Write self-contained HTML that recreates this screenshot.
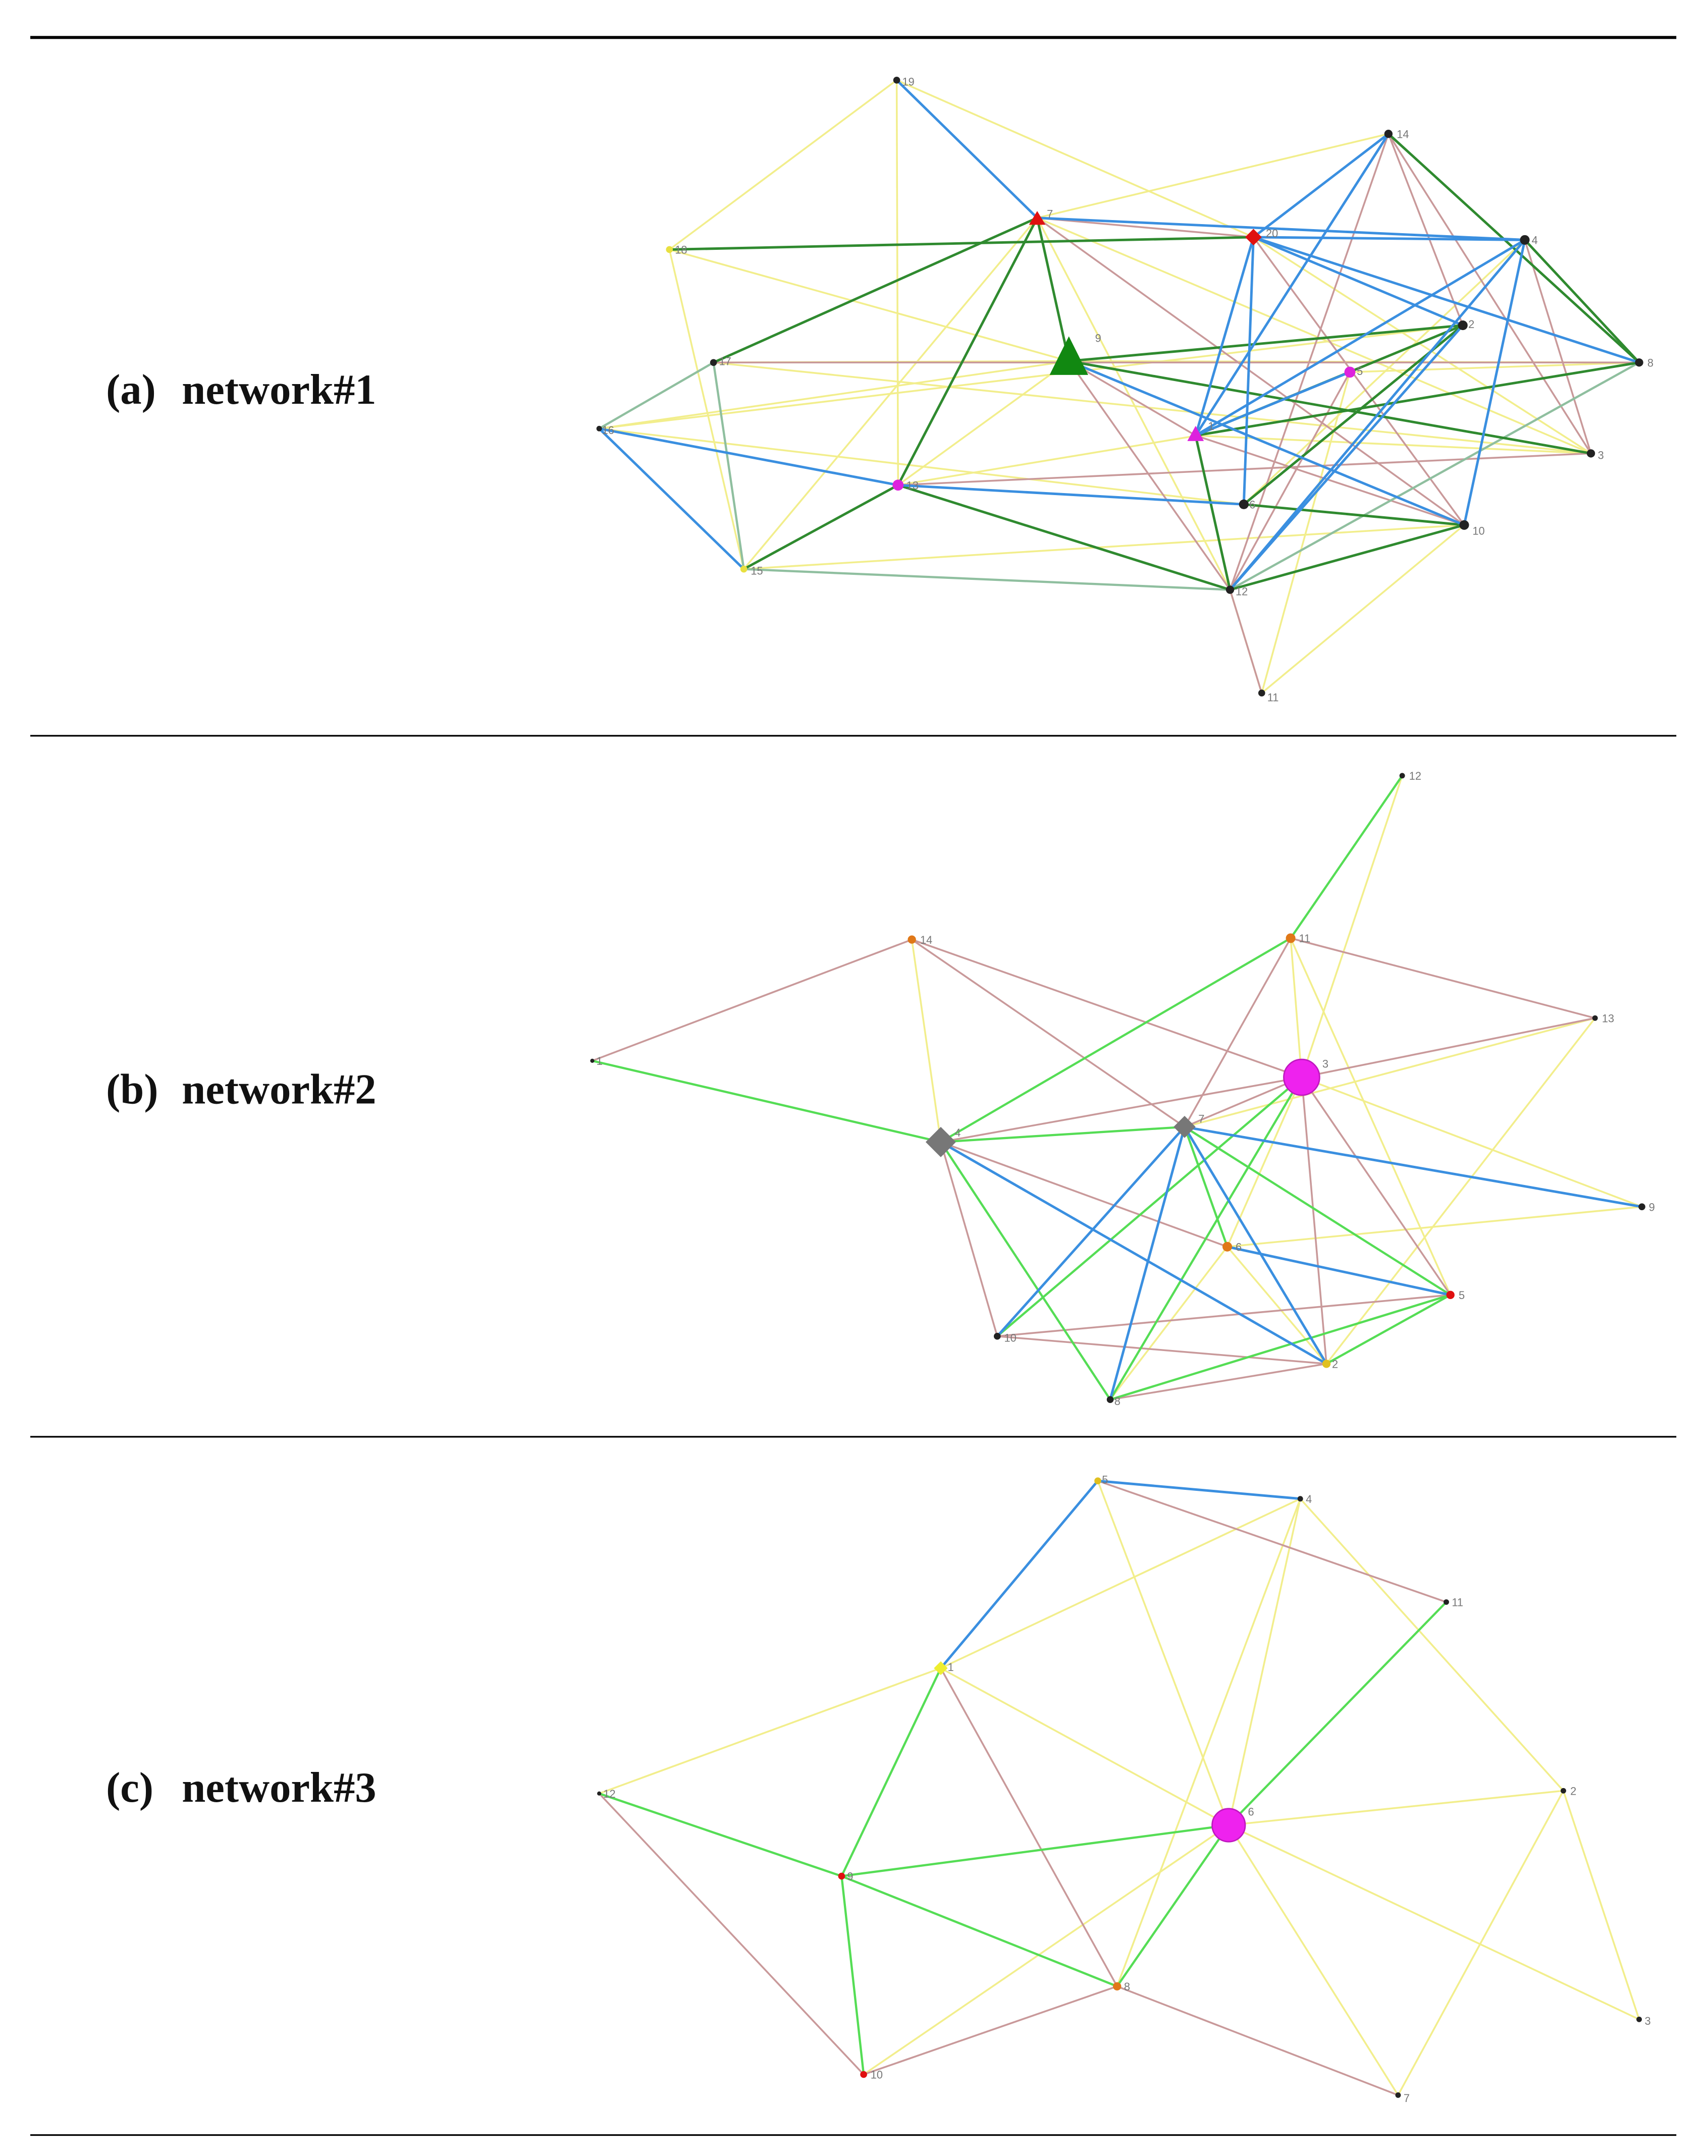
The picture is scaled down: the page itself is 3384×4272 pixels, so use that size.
<!DOCTYPE html>
<html><head><meta charset="utf-8"><style>
html,body{margin:0;padding:0;background:#fff;}
svg{display:block;}
text.l{font-family:"Liberation Serif",serif;font-weight:bold;font-size:31px;fill:#111;}
text.n{font-family:"Liberation Sans",sans-serif;font-size:8px;fill:#777;}
.y{stroke:#f2ee8c;stroke-width:1.3}
.p{stroke:#c9999a;stroke-width:1.3}
.b{stroke:#3a8fe0;stroke-width:1.8}
.g{stroke:#2f8a2f;stroke-width:1.8}
.lg{stroke:#55dd55;stroke-width:1.6}
.gg{stroke:#8fbf9f;stroke-width:1.6}
</style></head><body>
<svg width="3384" height="4272" viewBox="0 0 1240 1565" xmlns="http://www.w3.org/2000/svg">
<rect width="1240" height="1565" fill="#fff"/>
<line x1="22" y1="27" x2="1217" y2="27" stroke="#000" stroke-width="2.2"/>
<line x1="22" y1="534" x2="1217" y2="534" stroke="#000" stroke-width="1.2"/>
<line x1="22" y1="1043" x2="1217" y2="1043" stroke="#000" stroke-width="1.2"/>
<line x1="22" y1="1550" x2="1217" y2="1550" stroke="#000" stroke-width="1.2"/>
<text class="l" x="77" y="293">(a)</text><text class="l" x="132" y="293">network#1</text>
<text class="l" x="77" y="801">(b)</text><text class="l" x="132" y="801">network#2</text>
<text class="l" x="77" y="1308">(c)</text><text class="l" x="132" y="1308">network#3</text>

<!-- network 1 -->
<g fill="none">
<line class="y" x1="651" y1="58" x2="486" y2="181"/><line class="y" x1="651" y1="58" x2="652" y2="352"/>
<line class="y" x1="651" y1="58" x2="910" y2="172"/><line class="y" x1="486" y1="181" x2="540" y2="413"/>
<line class="y" x1="486" y1="181" x2="776" y2="262"/><line class="y" x1="518" y1="263" x2="776" y2="262"/>
<line class="y" x1="518" y1="263" x2="1155" y2="329"/><line class="y" x1="435" y1="311" x2="776" y2="262"/>
<line class="y" x1="435" y1="311" x2="903" y2="366"/><line class="y" x1="652" y1="352" x2="776" y2="262"/>
<line class="y" x1="540" y1="413" x2="1063" y2="381"/><line class="y" x1="1008" y1="97" x2="753" y2="158"/>
<line class="y" x1="776" y1="262" x2="1190" y2="263"/><line class="y" x1="753" y1="158" x2="893" y2="428"/>
<line class="y" x1="916" y1="503" x2="893" y2="428"/><line class="y" x1="916" y1="503" x2="980" y2="270"/>
<line class="y" x1="916" y1="503" x2="1063" y2="381"/><line class="y" x1="893" y1="428" x2="1190" y2="263"/>
<line class="y" x1="980" y1="270" x2="1190" y2="263"/><line class="y" x1="910" y1="172" x2="1155" y2="329"/>
<line class="y" x1="753" y1="158" x2="1155" y2="329"/><line class="y" x1="1107" y1="174" x2="903" y2="366"/>
<line class="y" x1="540" y1="413" x2="753" y2="158"/><line class="y" x1="652" y1="352" x2="1190" y2="263"/>
<line class="y" x1="435" y1="311" x2="1062" y2="236"/><line class="y" x1="868" y1="316" x2="1155" y2="329"/>
<!-- pink -->
<line class="p" x1="753" y1="158" x2="910" y2="172"/><line class="p" x1="753" y1="158" x2="1063" y2="381"/>
<line class="p" x1="1008" y1="97" x2="893" y2="428"/><line class="p" x1="1008" y1="97" x2="1062" y2="236"/>
<line class="p" x1="1008" y1="97" x2="1155" y2="329"/><line class="p" x1="776" y1="262" x2="868" y2="316"/>
<line class="p" x1="776" y1="262" x2="893" y2="428"/><line class="p" x1="518" y1="263" x2="1190" y2="263"/>
<line class="p" x1="980" y1="270" x2="893" y2="428"/><line class="p" x1="893" y1="428" x2="916" y2="503"/>
<line class="p" x1="652" y1="352" x2="1155" y2="329"/><line class="p" x1="1107" y1="174" x2="1155" y2="329"/>
<line class="p" x1="868" y1="316" x2="1063" y2="381"/><line class="p" x1="910" y1="172" x2="1063" y2="381"/>
<!-- pale green -->
<line class="gg" x1="435" y1="311" x2="518" y2="263"/><line class="gg" x1="540" y1="413" x2="893" y2="428"/>
<line class="gg" x1="518" y1="263" x2="540" y2="413"/><line class="gg" x1="893" y1="428" x2="1190" y2="263"/>
<!-- dark green -->
<line class="g" x1="486" y1="181" x2="910" y2="172"/><line class="g" x1="518" y1="263" x2="753" y2="158"/>
<line class="g" x1="753" y1="158" x2="776" y2="262"/><line class="g" x1="776" y1="262" x2="1062" y2="236"/>
<line class="g" x1="776" y1="262" x2="1155" y2="329"/><line class="g" x1="868" y1="316" x2="893" y2="428"/>
<line class="g" x1="540" y1="413" x2="652" y2="352"/><line class="g" x1="652" y1="352" x2="893" y2="428"/>
<line class="g" x1="893" y1="428" x2="1063" y2="381"/><line class="g" x1="903" y1="366" x2="1063" y2="381"/>
<line class="g" x1="903" y1="366" x2="1062" y2="236"/><line class="g" x1="1008" y1="97" x2="1190" y2="263"/>
<line class="g" x1="1107" y1="174" x2="1190" y2="263"/><line class="g" x1="868" y1="316" x2="1190" y2="263"/>
<line class="g" x1="868" y1="316" x2="1062" y2="236"/><line class="g" x1="652" y1="352" x2="753" y2="158"/>
<!-- blue -->
<line class="b" x1="651" y1="58" x2="753" y2="158"/><line class="b" x1="753" y1="158" x2="1107" y2="174"/>
<line class="b" x1="910" y1="172" x2="868" y2="316"/><line class="b" x1="910" y1="172" x2="903" y2="366"/>
<line class="b" x1="910" y1="172" x2="1062" y2="236"/><line class="b" x1="910" y1="172" x2="1107" y2="174"/>
<line class="b" x1="1008" y1="97" x2="910" y2="172"/><line class="b" x1="1008" y1="97" x2="868" y2="316"/>
<line class="b" x1="1107" y1="174" x2="868" y2="316"/><line class="b" x1="1107" y1="174" x2="1063" y2="381"/>
<line class="b" x1="1107" y1="174" x2="893" y2="428"/><line class="b" x1="1062" y1="236" x2="893" y2="428"/>
<line class="b" x1="776" y1="262" x2="1063" y2="381"/><line class="b" x1="435" y1="311" x2="652" y2="352"/>
<line class="b" x1="435" y1="311" x2="540" y2="413"/><line class="b" x1="652" y1="352" x2="903" y2="366"/>
<line class="b" x1="910" y1="172" x2="1190" y2="263"/><line class="b" x1="868" y1="316" x2="980" y2="270"/>
</g>
<g>
<polygon points="776,244 762,272 790,272" fill="#118811"/>
<polygon points="753,153 747,163 759,163" fill="#e01010"/>
<polygon points="910,166 916,172 910,178 904,172" fill="#e01010"/>
<polygon points="868,309 862,320 874,320" fill="#dd22dd"/>
<circle cx="980" cy="270" r="4" fill="#dd22dd"/><circle cx="652" cy="352" r="4" fill="#dd22dd"/>
<g fill="#222">
<circle cx="651" cy="58" r="2.5"/><circle cx="1008" cy="97" r="3"/><circle cx="1107" cy="174" r="3.5"/>
<circle cx="1062" cy="236" r="3.5"/><circle cx="518" cy="263" r="2.5"/><circle cx="1190" cy="263" r="3"/>
<circle cx="435" cy="311" r="2"/><circle cx="1155" cy="329" r="3"/><circle cx="903" cy="366" r="3.5"/>
<circle cx="1063" cy="381" r="3.5"/><circle cx="893" cy="428" r="3"/><circle cx="916" cy="503" r="2.5"/>
</g>
<circle cx="486" cy="181" r="2.5" fill="#e8e040"/><circle cx="540" cy="413" r="2.5" fill="#e8e040"/>
</g>
<g>
<text class="n" x="655" y="62">19</text><text class="n" x="760" y="158">7</text><text class="n" x="919" y="172">20</text>
<text class="n" x="1014" y="100">14</text><text class="n" x="1112" y="177">4</text><text class="n" x="490" y="184">18</text>
<text class="n" x="1066" y="238">2</text><text class="n" x="795" y="248">9</text><text class="n" x="522" y="265">17</text>
<text class="n" x="985" y="272">5</text><text class="n" x="1196" y="266">8</text><text class="n" x="437" y="315">16</text>
<text class="n" x="877" y="312">1</text><text class="n" x="1160" y="333">3</text><text class="n" x="658" y="355">13</text>
<text class="n" x="907" y="369">6</text><text class="n" x="1069" y="388">10</text><text class="n" x="545" y="417">15</text>
<text class="n" x="897" y="432">12</text><text class="n" x="920" y="509">11</text>
</g>

<!-- network 2 -->
<g fill="none">
<line class="y" x1="1018" y1="563" x2="945" y2="782"/><line class="y" x1="662" y1="682" x2="683" y2="829"/>
<line class="y" x1="937" y1="681" x2="945" y2="782"/><line class="y" x1="937" y1="681" x2="1053" y2="940"/>
<line class="y" x1="1158" y1="739" x2="860" y2="818"/><line class="y" x1="1192" y1="876" x2="891" y2="905"/>
<line class="y" x1="1192" y1="876" x2="945" y2="782"/><line class="y" x1="945" y1="782" x2="891" y2="905"/>
<line class="y" x1="891" y1="905" x2="963" y2="990"/><line class="y" x1="891" y1="905" x2="806" y2="1016"/>
<line class="y" x1="1158" y1="739" x2="963" y2="990"/>
<line class="p" x1="662" y1="682" x2="430" y2="770"/><line class="p" x1="662" y1="682" x2="860" y2="818"/>
<line class="p" x1="662" y1="682" x2="945" y2="782"/><line class="p" x1="937" y1="681" x2="860" y2="818"/>
<line class="p" x1="937" y1="681" x2="1158" y2="739"/><line class="p" x1="1158" y1="739" x2="945" y2="782"/>
<line class="p" x1="683" y1="829" x2="945" y2="782"/><line class="p" x1="683" y1="829" x2="891" y2="905"/>
<line class="p" x1="683" y1="829" x2="724" y2="970"/><line class="p" x1="945" y1="782" x2="963" y2="990"/>
<line class="p" x1="945" y1="782" x2="1053" y2="940"/><line class="p" x1="724" y1="970" x2="1053" y2="940"/>
<line class="p" x1="724" y1="970" x2="963" y2="990"/><line class="p" x1="806" y1="1016" x2="963" y2="990"/>
<line class="p" x1="860" y1="818" x2="945" y2="782"/>
<line class="lg" x1="1018" y1="563" x2="937" y2="681"/><line class="lg" x1="430" y1="770" x2="683" y2="829"/>
<line class="lg" x1="937" y1="681" x2="683" y2="829"/><line class="lg" x1="683" y1="829" x2="860" y2="818"/>
<line class="lg" x1="683" y1="829" x2="806" y2="1016"/><line class="lg" x1="860" y1="818" x2="891" y2="905"/>
<line class="lg" x1="860" y1="818" x2="1053" y2="940"/><line class="lg" x1="945" y1="782" x2="806" y2="1016"/>
<line class="lg" x1="945" y1="782" x2="724" y2="970"/><line class="lg" x1="806" y1="1016" x2="1053" y2="940"/>
<line class="lg" x1="963" y1="990" x2="1053" y2="940"/>
<line class="b" x1="860" y1="818" x2="1192" y2="876"/><line class="b" x1="683" y1="829" x2="963" y2="990"/>
<line class="b" x1="860" y1="818" x2="724" y2="970"/><line class="b" x1="860" y1="818" x2="806" y2="1016"/>
<line class="b" x1="860" y1="818" x2="963" y2="990"/><line class="b" x1="891" y1="905" x2="1053" y2="940"/>
</g>
<g>
<circle cx="945" cy="782" r="13" fill="#ee22ee" stroke="#c018c0"/>
<polygon points="683,818 694,829 683,840 672,829" fill="#777"/>
<polygon points="860,810 868,818 860,826 852,818" fill="#777"/>
<circle cx="662" cy="682" r="3" fill="#e07818"/><circle cx="937" cy="681" r="3.5" fill="#e07818"/>
<circle cx="891" cy="905" r="3.5" fill="#e07818"/><circle cx="963" cy="990" r="3" fill="#e0c020"/>
<circle cx="1053" cy="940" r="3" fill="#e01010"/>
<g fill="#222"><circle cx="1018" cy="563" r="2"/><circle cx="1158" cy="739" r="2"/><circle cx="430" cy="770" r="1.5"/>
<circle cx="1192" cy="876" r="2.5"/><circle cx="724" cy="970" r="2.5"/><circle cx="806" cy="1016" r="2.5"/></g>
<text class="n" x="1023" y="566">12</text><text class="n" x="668" y="685">14</text><text class="n" x="943" y="684">11</text>
<text class="n" x="1163" y="742">13</text><text class="n" x="433" y="773">1</text><text class="n" x="960" y="775">3</text>
<text class="n" x="693" y="825">4</text><text class="n" x="870" y="815">7</text><text class="n" x="1197" y="879">9</text>
<text class="n" x="897" y="908">6</text><text class="n" x="1059" y="943">5</text><text class="n" x="729" y="974">10</text>
<text class="n" x="967" y="993">2</text><text class="n" x="809" y="1020">8</text>
</g>

<!-- network 3 -->
<g fill="none">
<line class="y" x1="797" y1="1075" x2="892" y2="1325"/><line class="y" x1="944" y1="1088" x2="683" y2="1211"/>
<line class="y" x1="944" y1="1088" x2="892" y2="1325"/><line class="y" x1="944" y1="1088" x2="811" y2="1442"/>
<line class="y" x1="944" y1="1088" x2="1135" y2="1300"/><line class="y" x1="683" y1="1211" x2="892" y2="1325"/>
<line class="y" x1="435" y1="1302" x2="683" y2="1211"/><line class="y" x1="627" y1="1506" x2="892" y2="1325"/>
<line class="y" x1="892" y1="1325" x2="1015" y2="1521"/><line class="y" x1="892" y1="1325" x2="1190" y2="1466"/>
<line class="y" x1="892" y1="1325" x2="1135" y2="1300"/><line class="y" x1="1135" y1="1300" x2="1015" y2="1521"/>
<line class="y" x1="1135" y1="1300" x2="1190" y2="1466"/>
<line class="p" x1="797" y1="1075" x2="1050" y2="1163"/><line class="p" x1="683" y1="1211" x2="811" y2="1442"/>
<line class="p" x1="435" y1="1302" x2="627" y2="1506"/><line class="p" x1="627" y1="1506" x2="811" y2="1442"/>
<line class="p" x1="811" y1="1442" x2="1015" y2="1521"/>
<line class="lg" x1="1050" y1="1163" x2="892" y2="1325"/><line class="lg" x1="683" y1="1211" x2="611" y2="1362"/>
<line class="lg" x1="435" y1="1302" x2="611" y2="1362"/><line class="lg" x1="611" y1="1362" x2="892" y2="1325"/>
<line class="lg" x1="611" y1="1362" x2="811" y2="1442"/><line class="lg" x1="611" y1="1362" x2="627" y2="1506"/>
<line class="lg" x1="811" y1="1442" x2="892" y2="1325"/>
<line class="b" x1="797" y1="1075" x2="683" y2="1211"/><line class="b" x1="797" y1="1075" x2="944" y2="1088"/>
</g>
<g>
<circle cx="892" cy="1325" r="12" fill="#ee22ee" stroke="#c018c0"/>
<polygon points="683,1206 688,1211 683,1216 678,1211" fill="#eeee30"/>
<circle cx="811" cy="1442" r="3" fill="#e07818"/><circle cx="611" cy="1362" r="2.5" fill="#e01010"/>
<circle cx="627" cy="1506" r="2.5" fill="#e01010"/><circle cx="797" cy="1075" r="2.5" fill="#e0c020"/>
<g fill="#222"><circle cx="944" cy="1088" r="2"/><circle cx="1050" cy="1163" r="2"/><circle cx="435" cy="1302" r="1.5"/>
<circle cx="1135" cy="1300" r="2"/><circle cx="1190" cy="1466" r="2"/><circle cx="1015" cy="1521" r="2"/></g>
<text class="n" x="800" y="1077">5</text><text class="n" x="948" y="1091">4</text><text class="n" x="1054" y="1166">11</text>
<text class="n" x="688" y="1213">1</text><text class="n" x="438" y="1305">12</text><text class="n" x="1140" y="1303">2</text>
<text class="n" x="906" y="1318">6</text><text class="n" x="615" y="1365">9</text><text class="n" x="816" y="1445">8</text>
<text class="n" x="1194" y="1470">3</text><text class="n" x="632" y="1509">10</text><text class="n" x="1019" y="1526">7</text>
</g>
</svg>
</body></html>
